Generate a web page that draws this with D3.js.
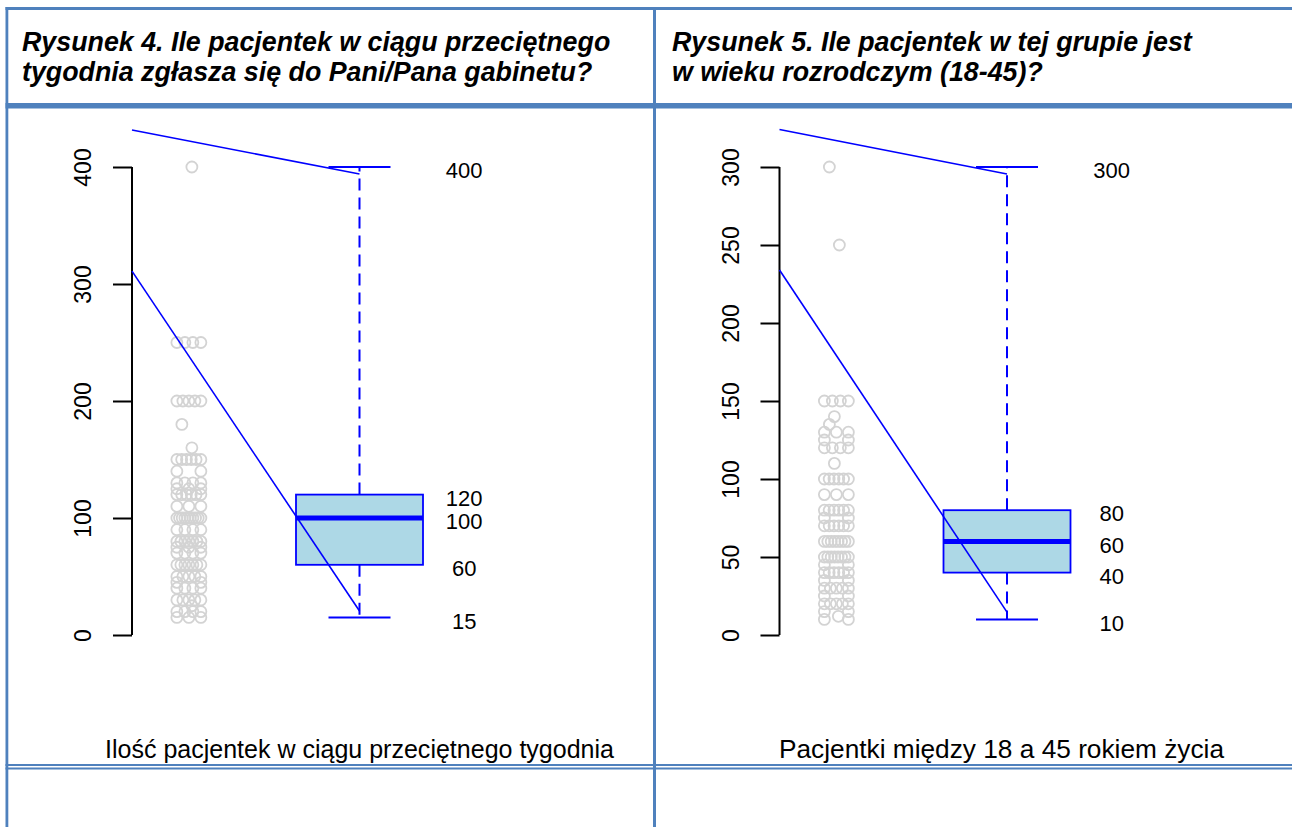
<!DOCTYPE html>
<html><head><meta charset="utf-8">
<script src="https://cdn.jsdelivr.net/npm/d3@7/dist/d3.min.js"></script>
<style>html,body{margin:0;padding:0;background:#fff;}svg{display:block;}</style>
</head><body><svg id="c" width="1292" height="827"></svg>
<script>
// ---------- data ----------
const titles4 = ["Rysunek 4. Ile pacjentek w ciągu przeciętnego", "tygodnia zgłasza się do Pani/Pana gabinetu?"];
const titles5 = ["Rysunek 5. Ile pacjentek w tej grupie jest", "w wieku rozrodczym (18-45)?"];
const xLabel4 = "Ilość pacjentek w ciągu przeciętnego tygodnia";
const xLabel5 = "Pacjentki między 18 a 45 rokiem życia";

const ticks4 = [0, 100, 200, 300, 400];
const ticks5 = [0, 50, 100, 150, 200, 250, 300];

// boxplot stats: [min, q1, median, q3, max]
const stats4 = [15, 60, 100, 120, 400];
const stats5 = [10, 40, 60, 80, 300];
const statLabels4 = ["15", "60", "100", "120", "400"];
const statLabels5 = ["10", "40", "60", "80", "300"];

const points4 = [400, 250,250,250,250, 200,200,200,200,200, 180, 160,
  150,150,150,150,150,150, 140,140, 130,130,130,130, 125,125,125,
  120,120,120,120,120,120, 110,110,110,
  100,100,100,100,100,100,100,100,100,100, 90,90,90,90,
  80,80,80,80,80,80,80, 75,75,75, 70,70,70,70,
  60,60,60,60,60,60,60, 50,50,50,50,50, 45,45, 40,40,40,40,
  30,30,30,30,30, 25, 20,20,20,20, 15,15,15];

const points5 = [300, 250, 150,150,150,150, 140, 135, 130,130,130, 125,125,
  120,120,120,120, 110, 100,100,100,100,100,100, 90,90,90,
  80,80,80,80,80,80, 75,75, 70,70,70,70,70,70,
  60,60,60,60,60,60,60,60, 50,50,50,50,50,50,50,50, 45,45,
  40,40,40,40,40,40, 35,35, 30,30,30,30,30, 25,25,
  20,20,20,20,20, 15,15, 12, 10,10];

// annotation lines: [x0(unit), value0, x1(unit), value1]
const annot4 = [[0, 431.6, 1, 394], [0, 311, 1, 20.5]];
const annot5 = [[0, 324, 1, 295.5], [0, 234, 1, 14.7]];

// ---------- drawing ----------
const svg = d3.select("#c");
svg.append("rect").attr("width", 1292).attr("height", 827).attr("fill", "#fff");
const BORDER = "#4f81bd";
const FONT = "'Liberation Sans', Arial, sans-serif";

function panel(opt) {
  const g = svg.append("g");
  const y = d3.scaleLinear().domain([0, opt.ymax]).range([635, 167]);
  const x = d3.scaleLinear().domain([0, 1]).range([opt.axisX, opt.axisX + 227.5]);

  // y axis
  const ax = d3.axisLeft(y).tickValues(opt.ticks).tickSize(19).tickPadding(22).tickFormat(d3.format("d"));
  const axg = g.append("g").attr("transform", `translate(${opt.axisX},0)`).call(ax);
  axg.select(".domain").attr("d", `M0,${y(0)}V${y(opt.ymax)}`).attr("stroke", "#000").attr("stroke-width", 2);
  axg.selectAll(".tick line").attr("stroke", "#000").attr("stroke-width", 2);
  axg.selectAll(".tick text")
    .attr("font-family", FONT).attr("font-size", 23).attr("fill", "#000")
    .attr("x", null).attr("dy", null)
    .attr("text-anchor", "middle")
    .attr("transform", "translate(-41,0) rotate(-90)");

  // strip points
  const counts = {}, idx = {};
  opt.points.forEach(v => counts[v] = (counts[v] || 0) + 1);
  const pts = opt.points.map(v => {
    const n = counts[v]; const k = idx[v] = (idx[v] === undefined ? 0 : idx[v] + 1);
    const off = n === 1 ? ((v * 37) % 15 - 7) : (-12 + 24 * k / (n - 1));
    return {v, off};
  });
  g.append("g").selectAll("circle").data(pts).join("circle")
    .attr("cx", d => x(0.25) + d.off).attr("cy", d => y(d.v)).attr("r", 5.5)
    .attr("fill", "none").attr("stroke", "#d3d3d3").attr("stroke-width", 1.8);

  // boxplot
  const s = opt.stats, BLUE = "#0000ff";
  const bw = 63.5 / 227.5, cw = 31 / 227.5;
  g.append("line").attr("x1", x(1)).attr("x2", x(1)).attr("y1", y(s[3])).attr("y2", y(s[4]))
    .attr("stroke", BLUE).attr("stroke-width", 2).attr("stroke-dasharray", "12,7");
  g.append("line").attr("x1", x(1)).attr("x2", x(1)).attr("y1", y(s[1])).attr("y2", y(s[0]))
    .attr("stroke", BLUE).attr("stroke-width", 2).attr("stroke-dasharray", "12,7");
  [s[0], s[4]].forEach(v => g.append("line").attr("x1", x(1 - cw)).attr("x2", x(1 + cw))
    .attr("y1", y(v)).attr("y2", y(v)).attr("stroke", BLUE).attr("stroke-width", 2));
  g.append("rect").attr("x", x(1 - bw)).attr("width", x(1 + bw) - x(1 - bw))
    .attr("y", y(s[3])).attr("height", y(s[1]) - y(s[3]))
    .attr("fill", "#add8e6").attr("stroke", BLUE).attr("stroke-width", 1.8);
  g.append("line").attr("x1", x(1 - bw)).attr("x2", x(1 + bw)).attr("y1", y(s[2])).attr("y2", y(s[2]))
    .attr("stroke", BLUE).attr("stroke-width", 5);

  // stat labels
  g.append("g").selectAll("text").data(s).join("text")
    .attr("x", x(1.46)).attr("y", d => y(d) + 4).attr("dy", "0.33em")
    .attr("text-anchor", "middle").attr("font-family", FONT).attr("font-size", 22)
    .text((d, i) => opt.statLabels[i]);

  // annotation lines
  g.append("g").selectAll("line").data(opt.annot).join("line")
    .attr("x1", d => x(d[0])).attr("y1", d => y(d[1]))
    .attr("x2", d => x(d[2])).attr("y2", d => y(d[3]))
    .attr("stroke", BLUE).attr("stroke-width", 1.6);

  // titles
  opt.titles.forEach((t, i) => {
    svg.append("text").attr("x", opt.titleX).attr("y", 51 + 30 * i)
      .attr("font-family", FONT).attr("font-size", 26.8).attr("font-weight", "bold").attr("font-style", "italic")
      .text(t);
  });

  // x label (clipped by the row border)
  svg.append("text").attr("x", opt.xlabX).attr("y", 758)
    .attr("clip-path", "url(#clipBottom)")
    .attr("font-family", FONT).attr("font-size", 25)
    .attr("textLength", opt.xlabW).attr("lengthAdjust", "spacingAndGlyphs")
    .text(opt.xlab);
}

svg.append("defs").append("clipPath").attr("id", "clipBottom")
  .append("rect").attr("x", 0).attr("y", 690).attr("width", 1292).attr("height", 74);

panel({axisX: 132, ymax: 400, ticks: ticks4, stats: stats4, statLabels: statLabels4,
  points: points4, annot: annot4, titles: titles4, titleX: 22,
  xlab: xLabel4, xlabX: 105, xlabW: 509});
panel({axisX: 779.5, ymax: 300, ticks: ticks5, stats: stats5, statLabels: statLabels5,
  points: points5, annot: annot5, titles: titles5, titleX: 672,
  xlab: xLabel5, xlabX: 779, xlabW: 445});

// table borders
const b = svg.append("g").attr("fill", BORDER);
b.append("rect").attr("x", 5.5).attr("y", 7).attr("width", 1292).attr("height", 3);
b.append("rect").attr("x", 5.5).attr("y", 7).attr("width", 2.8).attr("height", 827);
b.append("rect").attr("x", 653).attr("y", 7).attr("width", 3).attr("height", 827);
b.append("rect").attr("x", 5.5).attr("y", 103).attr("width", 1292).attr("height", 5.5);
b.append("rect").attr("x", 5.5).attr("y", 764).attr("width", 1292).attr("height", 2);
b.append("rect").attr("x", 5.5).attr("y", 767.5).attr("width", 1292).attr("height", 2);
</script></body></html>
